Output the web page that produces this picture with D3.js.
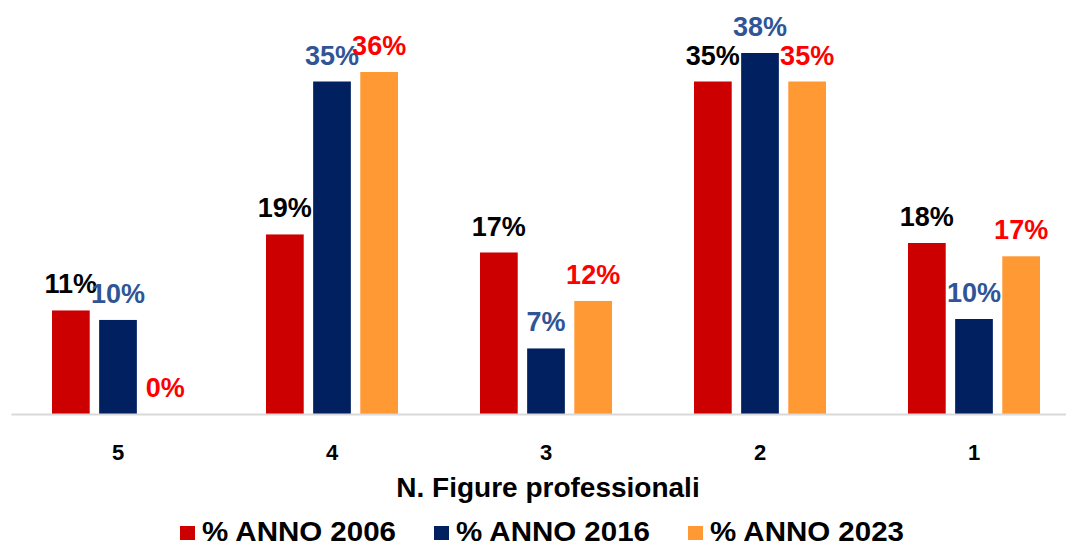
<!DOCTYPE html>
<html>
<head>
<meta charset="utf-8">
<script src="https://cdn.jsdelivr.net/npm/d3@7"></script>
<style>
  html, body { margin: 0; padding: 0; background: #fff; }
  svg { display: block; font-family: "Liberation Sans", Arial, sans-serif; font-weight: bold; }
</style>
</head>
<body>
<svg id="chart" width="1066" height="548"></svg>
<script>
const categories = ["5", "4", "3", "2", "1"];
const seriesNames = ["% ANNO 2006", "% ANNO 2016", "% ANNO 2023"];
const values2006 = [10.9, 18.9, 17.0, 35.0, 18.0];
const values2016 = [9.9, 35.0, 6.9, 38.0, 10.0];
const values2023 = [0.0, 36.0, 11.9, 35.0, 16.6];
const labels2006 = ["11%", "19%", "17%", "35%", "18%"];
const labels2016 = ["10%", "35%", "7%", "38%", "10%"];
const labels2023 = ["0%", "36%", "12%", "35%", "17%"];
const axisTitle = "N. Figure professionali";

const barColors = ["#CC0000", "#002060", "#FF9933"];
const labelColors = ["#000000", "#2F5597", "#FF0000"];

const seriesValues = [values2006, values2016, values2023];
const seriesLabels = [labels2006, labels2016, labels2023];

const svg = d3.select("#chart");

const x = d3.scaleBand().domain(categories).range([11, 1081]).paddingInner(0).paddingOuter(0);
const xs = d3.scaleBand().domain(seriesNames).range([41, 173]).paddingInner(0.2);
const y = d3.scaleLinear().domain([0, 40]).range([414, 34]);

const data = [];
categories.forEach((c, i) => {
  seriesNames.forEach((s, j) => {
    data.push({ cat: c, series: s, si: j, value: seriesValues[j][i], label: seriesLabels[j][i] });
  });
});

// bars
svg.append("g").selectAll("rect").data(data).join("rect")
  .attr("x", d => x(d.cat) + xs(d.series))
  .attr("y", d => y(d.value))
  .attr("width", xs.bandwidth())
  .attr("height", d => y(0) - y(d.value))
  .attr("fill", d => barColors[d.si]);

// axis line
const xAxis = d3.axisBottom(x).tickSize(0).tickPadding(0);
const gx = svg.append("g").attr("transform", `translate(0,${y(0)})`).call(xAxis);
gx.select(".domain").attr("stroke", "#D9D9D9").attr("stroke-width", 2);
gx.selectAll(".tick text")
  .attr("dy", null)
  .attr("y", 46)
  .attr("font-size", 22)
  .attr("font-family", "'Liberation Sans', Arial, sans-serif")
  .attr("font-weight", "bold")
  .attr("fill", "#000");

// data labels
svg.append("g").selectAll("text").data(data).join("text")
  .attr("x", d => x(d.cat) + xs(d.series) + xs.bandwidth() / 2)
  .attr("y", d => y(d.value) - 17)
  .attr("text-anchor", "middle")
  .attr("font-size", 27)
  .attr("fill", d => labelColors[d.si])
  .text(d => d.label);

// axis title
svg.append("text")
  .attr("x", 548)
  .attr("y", 497)
  .attr("text-anchor", "middle")
  .attr("font-size", 28)
  .attr("fill", "#000")
  .text(axisTitle);

// legend
const legendX = [180, 434, 688];
const lg = svg.append("g").selectAll("g").data(seriesNames).join("g")
  .attr("transform", (d, i) => `translate(${legendX[i]},0)`);
lg.append("rect").attr("x", 0).attr("y", 526).attr("width", 15).attr("height", 14)
  .attr("fill", (d, i) => barColors[i]);
lg.append("text").attr("x", 22).attr("y", 541).attr("font-size", 27)
  .attr("textLength", 194).attr("lengthAdjust", "spacingAndGlyphs")
  .attr("fill", "#000")
  .text(d => d);
</script>
</body>
</html>
